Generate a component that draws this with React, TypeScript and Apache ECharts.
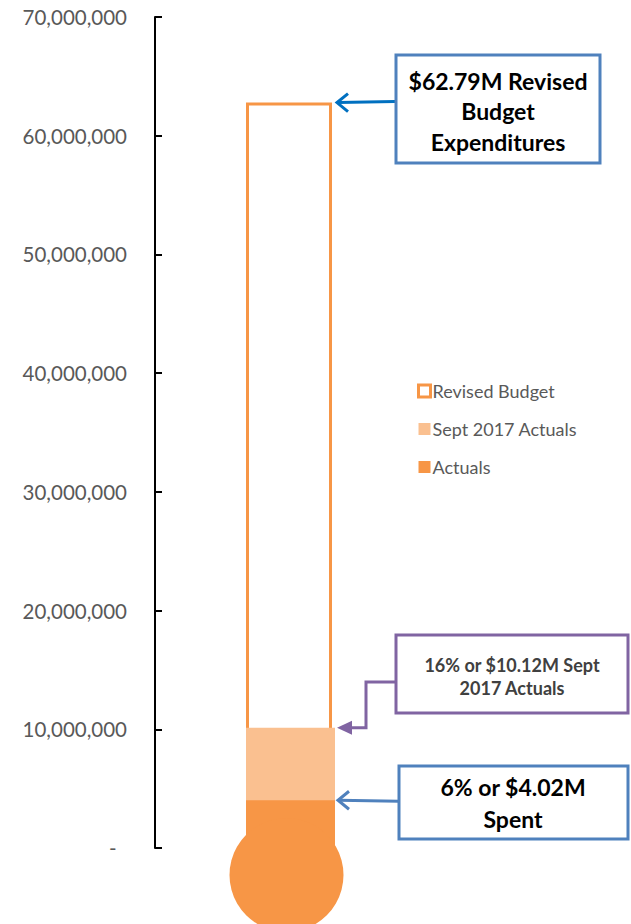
import React, { useEffect, useRef } from "react";
import * as echarts from "echarts";

const categories = ["Budget"];
const revisedBudget = [62790000];
const septActuals = [10120000];
const actuals = [4020000];
const yTicks = { min: 0, max: 70000000, interval: 10000000 };
const seriesNames = ["Revised Budget", "Sept 2017 Actuals", "Actuals"];
const callouts = [
  "$62.79M Revised\nBudget\nExpenditures",
  "16% or $10.12M Sept\n2017 Actuals",
  "6% or $4.02M\nSpent",
];

const FONT = "Lato, 'Open Sans', sans-serif";

export default function App() {
  const ref = useRef<HTMLDivElement>(null);
  useEffect(() => {
    if (!ref.current) return;
    const chart = echarts.init(ref.current, null, { renderer: "svg" });
    const option: any = {
      animation: false,
      textStyle: { fontFamily: FONT },
      grid: { left: 155, right: 205, top: 17, bottom: 76, containLabel: false },
      xAxis: {
        type: "category",
        data: categories,
        show: false,
      },
      yAxis: {
        type: "value",
        min: yTicks.min,
        max: yTicks.max,
        interval: yTicks.interval,
        splitLine: { show: false },
        axisLine: { show: true, lineStyle: { color: "#000", width: 2 } },
        axisTick: { show: true, inside: true, length: 7, lineStyle: { color: "#000", width: 2 } },
        axisLabel: {
          margin: 28,
          color: "#595959",
          fontSize: 20.5,
          fontFamily: FONT,
          formatter: (v: number) => (v === 0 ? "-  " : v.toLocaleString("en-US")),
        },
      },
      legend: {
        orient: "vertical",
        left: 412,
        top: 377,
        itemWidth: 12,
        itemHeight: 12,
        itemGap: 20,
        icon: "rect",
        data: [
          { name: seriesNames[0], itemStyle: { borderWidth: 3 } },
          { name: seriesNames[1] },
          { name: seriesNames[2] },
        ],
        textStyle: { color: "#595959", fontSize: 18, fontFamily: FONT, padding: [0, 0, 0, -3] },
      },
      series: [
        {
          name: seriesNames[0],
          type: "bar",
          data: revisedBudget,
          barWidth: 86,
          barGap: "-100%",
          itemStyle: { color: "#fff", borderColor: "#F79646", borderWidth: 3 },
        },
        {
          name: seriesNames[1],
          type: "bar",
          data: septActuals,
          barWidth: 89,
          barGap: "-100%",
          itemStyle: { color: "#FAC090" },
        },
        {
          name: seriesNames[2],
          type: "bar",
          data: actuals,
          barWidth: 89,
          barGap: "-100%",
          itemStyle: { color: "#F79646" },
        },
        {
          name: "bulb",
          type: "scatter",
          data: [[categories[0], 0]],
          symbol: "circle",
          symbolSize: 114,
          symbolOffset: [-4, 27],
          clip: false,
          silent: true,
          itemStyle: { color: "#F79646", opacity: 1 },
        },
      ],
    };
    chart.setOption(option);

    const yPix = (v: number) => chart.convertToPixel({ yAxisIndex: 0 }, v) as number;
    const barRight = 335;
    const y1 = yPix(revisedBudget[0]);
    const y2 = yPix(septActuals[0]);
    const y3 = yPix(actuals[0]);
    const blue = "#4F81BD";
    const purple = "#8064A2";

    const box = (x: number, y: number, w: number, h: number, color: string) => ({
      type: "rect",
      shape: { x, y, width: w, height: h },
      style: { fill: "#fff", stroke: color, lineWidth: 3 },
    });
    const txt = (x: number, y: number, text: string, size: number, color: string, lh: number) => ({
      type: "text",
      x,
      y,
      style: {
        text,
        fill: color,
        font: `bold ${size}px ${FONT}`,
        align: "center",
        verticalAlign: "middle",
        lineHeight: lh,
      },
    });
    const chevron = (x: number, y: number, color: string) => ({
      type: "polyline",
      shape: { points: [[x + 13, y - 9], [x + 2, y], [x + 13, y + 9]] },
      style: { stroke: color, lineWidth: 3, fill: "none" },
    });

    chart.setOption({
      graphic: [
        // callout 1
        { type: "line", shape: { x1: barRight + 3, y1: y1, x2: 395, y2: y1 - 1 }, style: { stroke: "#0070C0", lineWidth: 3 } },
        chevron(barRight, y1, "#0070C0"),
        box(396, 55, 204, 108, blue),
        txt(498, 111, callouts[0], 23, "#000", 30.5),
        // callout 2
        {
          type: "polyline",
          shape: { points: [[396, 682], [366, 682], [366, y2], [350, y2]] },
          style: { stroke: purple, lineWidth: 3, fill: "none" },
        },
        {
          type: "polygon",
          shape: { points: [[337, y2], [352, y2 - 7], [352, y2 + 7]] },
          style: { fill: purple },
        },
        box(396, 635, 232, 78, purple),
        txt(512, 676, callouts[1], 18, "#404040", 23),
        // callout 3
        { type: "line", shape: { x1: barRight + 4, y1: y3, x2: 399, y2: y3 + 1 }, style: { stroke: blue, lineWidth: 3 } },
        chevron(barRight + 1, y3, blue),
        box(399, 766, 229, 73, blue),
        txt(513, 803, callouts[2], 23, "#000", 32),
      ],
    });

    return () => chart.dispose();
  }, []);
  return <div ref={ref} style={{ width: 631, height: 924, position: "absolute", left: 0, top: 0 }} />;
}
